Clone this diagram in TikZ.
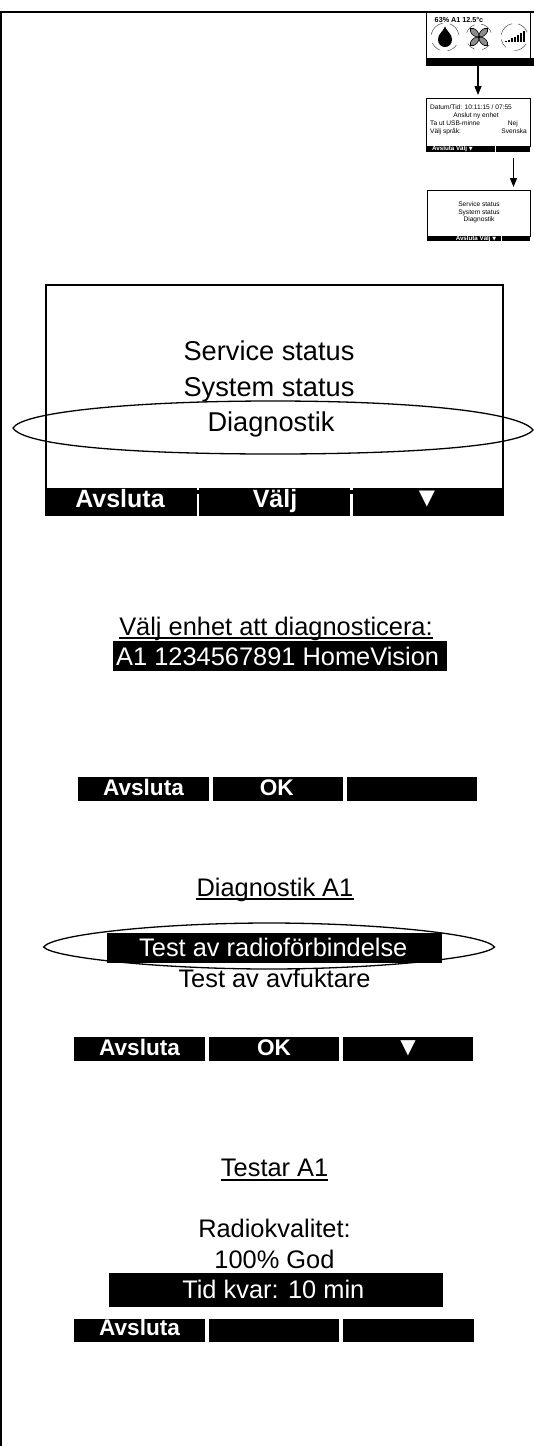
\documentclass[tikz,border=0pt]{standalone}
\usepackage{fontspec}
\setmainfont{Liberation Sans}
\newfontfamily\symfont{DejaVu Sans}
\usetikzlibrary{arrows.meta,calc}
\newcommand{\fsz}[1]{\fontsize{#1}{#1}\selectfont}
\tikzset{
  x=1pt,y=-1pt,
  frameline/.style={line width=1.6pt,draw=black},
  screen/.style={draw=black,line width=2pt,fill=none},
  bar/.style={fill=black,draw=none,inner sep=0pt},
  big/.style={anchor=base,inner sep=0pt,font=\fsz{27.2}},
  mid/.style={anchor=base,inner sep=0pt,font=\fsz{25.4}},
  inv/.style={anchor=base,inner sep=0pt,font=\fsz{25.4},text=white},
  btn/.style={anchor=base,inner sep=0pt,font=\fsz{22.6}\bfseries,text=white},
  btnbig/.style={anchor=base,inner sep=0pt,font=\fsz{25}\bfseries,text=white},
  tiny/.style={anchor=base,inner sep=0pt,font=\fsz{6.6}},
  tinybtn/.style={anchor=base,inner sep=0pt,font=\fsz{6.2}\bfseries,text=white},
  arr/.style={line width=1.3pt,shorten >=2.5pt,-{Triangle[length=9pt,width=7pt]}},
  ring/.style={line width=.5pt,draw=black!70},
  uline/.style={line width=1.3pt},
  oval/.style={line width=1.3pt}
}
\newcommand{\barbox}[5]{\node[bar,minimum width=#4-#2,minimum height=#5-#3] (#1) at ({(#2+#4)/2},{(#3+#5)/2}) {};}
\begin{document}
\begin{tikzpicture}
\useasboundingbox (0,0) rectangle (534,1446);
% page frame
\coordinate (tl) at (.7,12);
\coordinate (tr) at (534,12);
\coordinate (bl) at (.7,1446);
\draw[frameline] (tr) -- (tl) -- (bl);

% thumbnail 1
\node[draw=black,line width=.9pt,inner sep=0pt,minimum width=104,minimum height=46] (t1box) at (478,35) {};
\barbox{t1bar}{426}{58}{534}{66}
\node[anchor=base,inner sep=0pt,font=\fsz{7.2}\bfseries] (t1txt) at (459,22) {63\% A1 12.5°c};
\coordinate (i1) at (445,37);
\coordinate (i2) at (479,37);
\coordinate (i3) at (514.5,37);
\draw[ring] (i1) ++(35:14) arc (35:80:14) (i1) ++(110:14) arc (110:155:14) (i1) ++(190:14) arc (190:260:14) (i1) ++(290:14) arc (290:350:14);
\fill[black] (445,26.5) .. controls (447,32) and (452,33.5) .. (452,39.5) .. controls (452,44) and (449,47) .. (445,47) .. controls (441,47) and (438,44) .. (438,39.5) .. controls (438,33.5) and (443,32) .. (445,26.5) -- cycle;
\draw[ring] (i2) ++(40:13) arc (40:75:13) (i2) ++(110:13) arc (110:150:13) (i2) ++(200:13) arc (200:250:13) (i2) ++(280:13) arc (280:340:13);
\foreach \a in {45,135,225,315}{
  \draw[fill=black!45,draw=black,line width=.6pt,rotate around={\a:(i2)}] (i2) .. controls (482,33) and (489,33) .. (491,37) .. controls (489,41) and (482,41) .. (i2) -- cycle;
}
\fill (i2) circle (1.6);
\draw[ring] (i3) ++(30:13.5) arc (30:90:13.5) (i3) ++(130:13.5) arc (130:170:13.5) (i3) ++(190:13.5) arc (190:260:13.5) (i3) ++(285:13.5) arc (285:340:13.5);
\foreach \i/\h in {0/1.5,1/2.5,2/4,3/5.5,4/7.5,5/9.5,6/11}{
  \fill (505+\i*3,42) rectangle ++(2.2,-\h);
}

% thumbnail 2
\node[draw=black,line width=.9pt,inner sep=0pt,minimum width=104,minimum height=48] (t2box) at (478,122) {};
\barbox{t2bar}{426}{146}{530}{152}
\fill[white] (494.5,146) rectangle (495.5,152);
\node[tiny,anchor=base west] (t2a) at (430,109.5) {Datum/Tid: 10:11:15 / 07:55};
\node[tiny] (t2b) at (476,117.5) {Anslut ny enhet};
\node[tiny,anchor=base west] (t2c) at (430,125.5) {Ta ut USB-minne};
\node[tiny,anchor=base east] (t2d) at (518,125.5) {Nej};
\node[tiny,anchor=base west] (t2e) at (430,133.5) {Välj språk:};
\node[tiny,anchor=base east] (t2f) at (527,133.5) {Svenska};
\node[tinybtn,anchor=base west] (t2g) at (432,150.5) {Avsluta Välj {\symfont\fsz{5}▼}};

% thumbnail 3
\node[draw=black,line width=.9pt,inner sep=0pt,minimum width=103,minimum height=46] (t3box) at (478.5,213) {};
\barbox{t3bar}{427}{236}{530}{241}
\fill[white] (500.5,236) rectangle (501.5,241);
\node[tiny] (t3a) at (479,206.5) {Service status};
\node[tiny] (t3b) at (479,214.5) {System status};
\node[tiny] (t3c) at (479,221.5) {Diagnostik};
\node[tinybtn] (t3d) at (476,240.5) {Avsluta Välj {\symfont\fsz{5}▼}};

% arrows between thumbnails
\coordinate (a1) at (478,1);
\coordinate (a2) at (513.5,158);
\draw[arr] (a1 |- t1bar.south) -- (a1 |- t2box.north);
\draw[arr] (a2) -- (a2 |- t3box.north);

% main screen
\node[screen,inner sep=0pt,minimum width=457,minimum height=208] (main) at (274.5,389) {};
\node[big] (m1) at (269,360) {Service status};
\node[big] (m2) at (269,396) {System status};
\node[big] (m3) at (271,431) {Diagnostik};
\draw[oval] (13,428) .. controls (22,412) and (133,401) .. (273,401) .. controls (413,401) and (520,412) .. (533,430) .. controls (520,446) and (413,454) .. (273,454) .. controls (133,454) and (24,446) .. (13,428) -- cycle;
\barbox{mb1}{45}{488}{196.5}{516}
\barbox{mb2}{199}{488}{350}{516}
\barbox{mb3}{353}{488}{504}{516}
\fill (196.5,490) rectangle (199,492);
\fill (350,490) rectangle (353,492);
\node[btnbig] (mt1) at (120,507) {Avsluta};
\node[btnbig] (mt2) at (275,507) {Välj};
\node[btnbig,font=\fsz{21}\symfont] (mt3) at (427,504) {▼};

% select device
\node[mid] (s1) at (276,635) {Välj enhet att diagnosticera:};
\draw[uline] ($(s1.base west)+(0,3)$) -- ($(s1.base east)+(0,3)$);
\barbox{s2}{113}{641}{447}{671}
\node[inv,anchor=base west] (s2t) at (116,665) {A1 1234567891 HomeVision};
\barbox{sb1}{78}{777}{209}{801}
\barbox{sb2}{213}{777}{343}{801}
\barbox{sb3}{347}{777}{477}{801}
\node[btn] (st1) at (143.5,795) {Avsluta};
\node[btn] (st2) at (276.7,795) {OK};

% diagnostics
\node[mid] (d1) at (275,896) {Diagnostik A1};
\draw[uline] ($(d1.base west)+(0,3)$) -- ($(d1.base east)+(0,3)$);
\draw[oval] (43.6,947) .. controls (53,934) and (163,923) .. (269,923) .. controls (375,923) and (485,934) .. (494.5,947) .. controls (485,958) and (375,969) .. (269,969) .. controls (163,969) and (53,958) .. (43.6,947) -- cycle;
\barbox{d2}{107}{933}{442}{963}
\node[inv] (d2t) at (273.3,956) {Test av radioförbindelse};
\node[mid] (d3) at (274.5,987) {Test av avfuktare};
\barbox{db1}{74}{1037}{205}{1061}
\barbox{db2}{209}{1037}{339}{1061}
\barbox{db3}{343}{1037}{473}{1061}
\node[btn] (dt1) at (139.6,1055) {Avsluta};
\node[btn] (dt2) at (274,1055) {OK};
\node[btn,font=\fsz{20}\symfont] (dt3) at (408,1053) {▼};

% testing
\node[mid] (r1) at (274.6,1176) {Testar A1};
\draw[uline] ($(r1.base west)+(0,4)$) -- ($(r1.base east)+(0,4)$);
\node[mid] (r2) at (274.5,1237) {Radiokvalitet:};
\node[mid] (r3) at (274.5,1268) {100\% God};
\barbox{r4}{109}{1273}{443}{1307}
\node[inv] (r4t) at (273.3,1298) {Tid kvar: 10 min};
\barbox{rb1}{74}{1319}{205}{1342}
\barbox{rb2}{209}{1319}{339}{1342}
\barbox{rb3}{343}{1319}{474}{1342}
\node[btn] (rt1) at (139.6,1335) {Avsluta};
\end{tikzpicture}
\end{document}
